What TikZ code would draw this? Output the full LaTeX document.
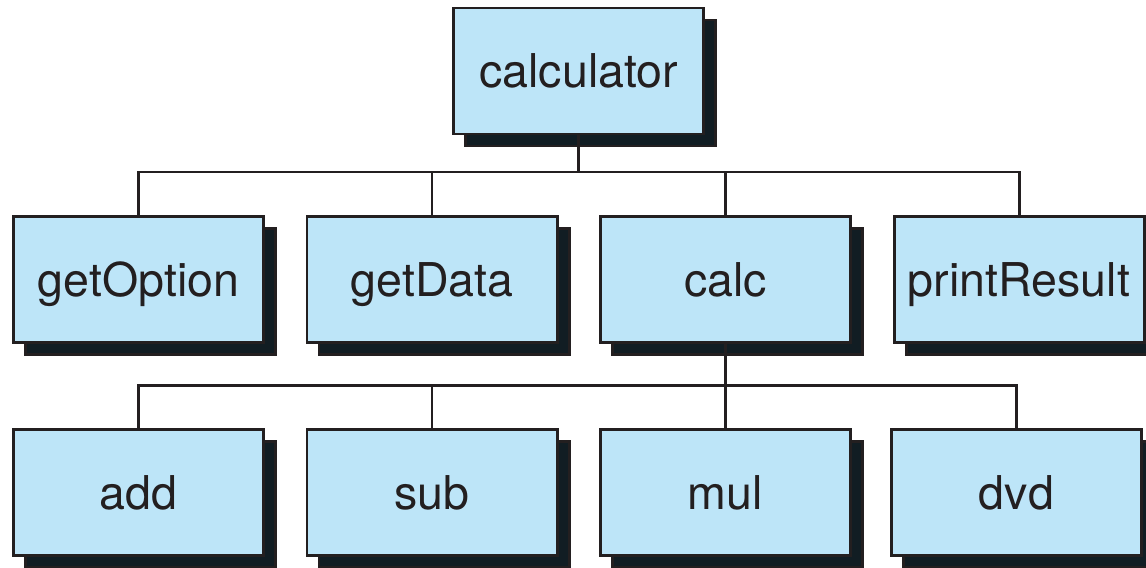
\documentclass[tikz,border=0pt]{standalone}
\usepackage{fontspec}
\setmainfont{TeX Gyre Heros}
\usetikzlibrary{positioning,shadows,calc}

\definecolor{boxblue}{HTML}{BDE5F8}
\definecolor{boxline}{HTML}{231F20}
\definecolor{boxshade}{HTML}{111D23}

\tikzset{
    module/.style={draw=boxline, fill=boxblue, line width=1.7pt,
        minimum width=5cm, minimum height=2.52cm, inner sep=0pt, outer sep=0pt,
        text=boxline, font=\fontsize{26.5}{32}\selectfont,
        text height=19pt, text depth=0pt,
        drop shadow={shadow xshift=0.24cm, shadow yshift=-0.24cm,
            opacity=1, fill=boxshade, draw=boxline}},
    link/.style={draw=boxline, line width=1.7pt}
}

\begin{document}
\begin{tikzpicture}
    \useasboundingbox (0,0) rectangle (22.92,-11.34);

    % second level
    \node[module] (getoption) at (2.77,-5.59) {getOption};
    \node[module, right=0.87cm of getoption] (getdata) {getData};
    \node[module, right=0.87cm of getdata] (calc) {calc};
    \node[module, right=0.87cm of calc] (printresult) {printResult};

    % root
    \node[module, above=1.65cm of {$(getdata.north)!0.5!(calc.north)$}] (calculator) {calculator};

    % third level, below calc
    \node[module, below=1.74cm of getoption] (add) {add};
    \node[module, right=0.87cm of add] (sub) {sub};
    \node[module, right=0.87cm of sub] (mul) {mul};
    \node[module, right=0.82cm of mul] (dvd) {dvd};

    \draw[link] (calculator.south) -- ++(0,-0.76) coordinate (busone);
    \draw[link] (getoption.north) |- (busone) -| (printresult.north);
    \draw[link] (getdata.north) -- (getdata.north |- busone);
    \draw[link] (calc.north) -- (calc.north |- busone);

    \draw[link] (calc.south) -- ++(0,-0.85) coordinate (bustwo);
    \draw[link] (add.north) |- (bustwo) -| (dvd.north);
    \draw[link] (sub.north) -- (sub.north |- bustwo);
    \draw[link] (mul.north) -- (mul.north |- bustwo);
\end{tikzpicture}
\end{document}
